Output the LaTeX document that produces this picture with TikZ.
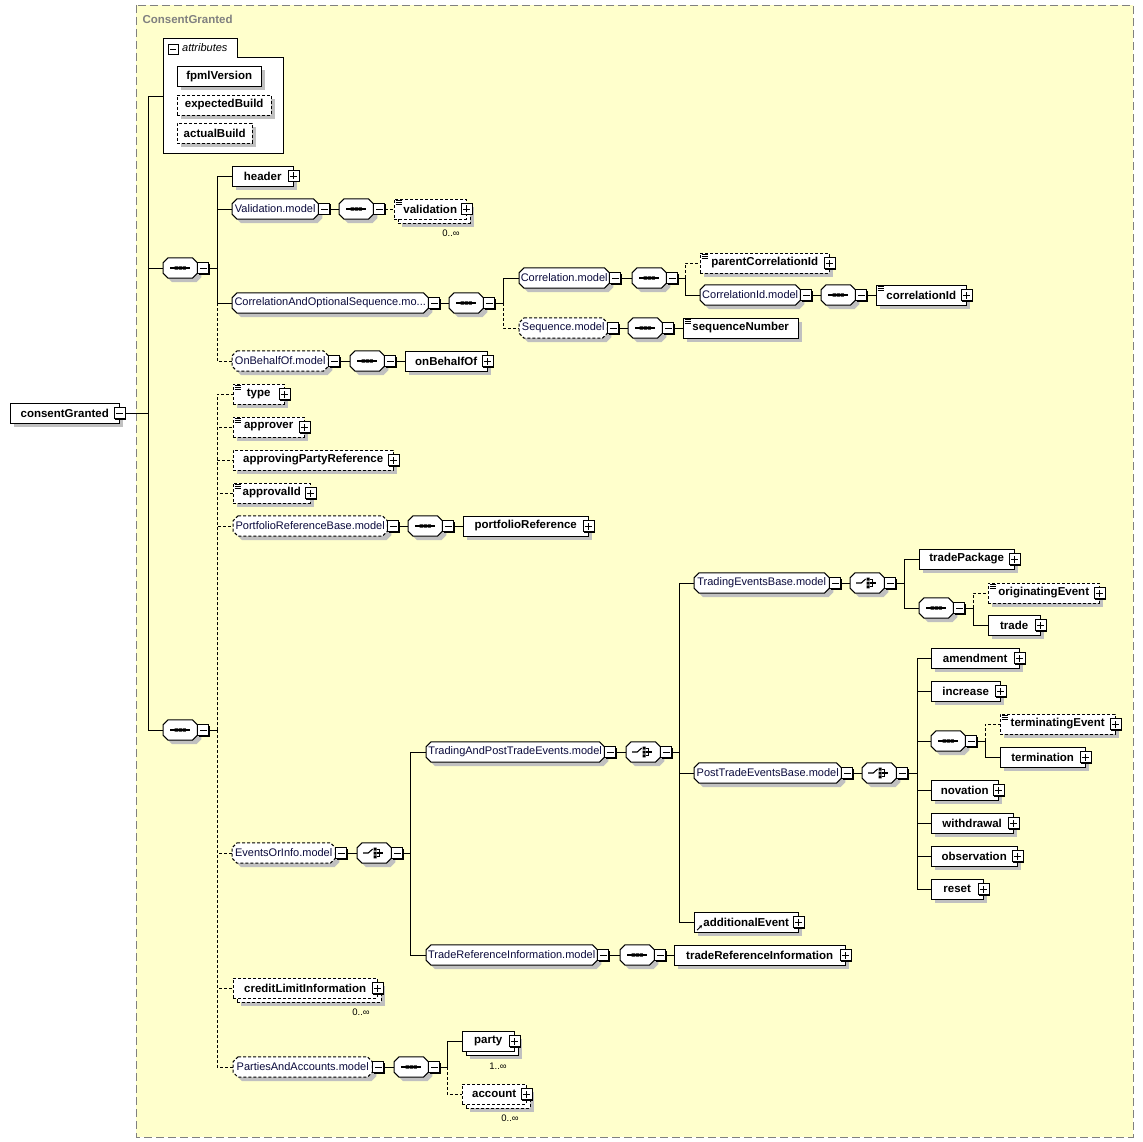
\documentclass[tikz,border=0pt]{standalone}
\usepackage{fontspec}
\setmainfont{Liberation Sans}
\usetikzlibrary{shadows,arrows.meta}
\definecolor{paper}{RGB}{255,255,204}
\definecolor{shade}{RGB}{192,192,192}
\definecolor{frame}{RGB}{128,128,128}
\definecolor{modeltext}{RGB}{10,10,60}
\newcommand\elemfont{\fontsize{11.5}{13}\selectfont\bfseries}
\newcommand\modelfont{\fontsize{11}{13}\selectfont}
\newcommand\occfont{\fontsize{9.5}{11}\selectfont}
\pgfdeclarelayer{paperlayer}
\pgfdeclarelayer{boxes}
\pgfsetlayers{paperlayer,boxes,main}
\tikzset{
  plainbox/.style={draw, fill=white, minimum height=20, inner sep=0, anchor=west, font=\elemfont},
  shaded/.style={drop shadow={shadow xshift=4pt, shadow yshift=-4pt, fill=shade, opacity=1}},
  opt/.style={dash pattern=on 3pt off 2pt},
  elem/.style={plainbox, shaded},
  optelem/.style={elem, opt},
  octa/.style={append after command={\pgfextra{\begin{pgfonlayer}{boxes}
    \draw[draw=black, line width=1pt, fill=white, shaded, #1]
      ([xshift=5pt]\tikzlastnode.north west) -- ([xshift=-5pt]\tikzlastnode.north east)
      -- ([yshift=-5pt]\tikzlastnode.north east) -- ([yshift=5pt]\tikzlastnode.south east)
      -- ([xshift=-5pt]\tikzlastnode.south east) -- ([xshift=5pt]\tikzlastnode.south west)
      -- ([yshift=5pt]\tikzlastnode.south west) -- ([yshift=-5pt]\tikzlastnode.north west) -- cycle;
    \end{pgfonlayer}}}},
  modelbase/.style={plainbox, draw=none, fill=none, font=\modelfont, text=modeltext},
  model/.style={modelbase, octa=solid},
  optmodel/.style={modelbase, octa=opt},
  compositor/.style={model, minimum width=34},
  btn/.style={draw, fill=white, minimum size=11, inner sep=0, line width=.8pt,
    drop shadow={shadow xshift=1pt, shadow yshift=-1pt, fill=black, opacity=1}},
  minusbtn/.style={btn, path picture={\draw[line width=.8pt]
    ([xshift=2pt]path picture bounding box.west) -- ([xshift=-2pt]path picture bounding box.east);}},
  plusbtn/.style={btn, path picture={\draw[line width=.8pt]
    ([xshift=2pt]path picture bounding box.west) -- ([xshift=-2pt]path picture bounding box.east)
    ([yshift=2pt]path picture bounding box.south) -- ([yshift=-2pt]path picture bounding box.north);}},
  occ/.style={font=\occfont, inner sep=0},
  seqicon/.pic={\draw[draw=black, line width=1.1pt] (-10,0) -- (10,0);
    \fill[black] (-5.6,-1.6) rectangle (-2.4,1.6) (-1.6,-1.6) rectangle (1.6,1.6) (2.4,-1.6) rectangle (5.6,1.6);},
  choiceicon/.pic={\draw[draw=black, line width=1.1pt] (-11,0) -- (-6,0) -- (-1.5,-4);
    \fill[black] (-0.6,-5.4) rectangle (2.4,-2.4) (-0.6,-1.5) rectangle (2.4,1.5) (-0.6,2.4) rectangle (2.4,5.4);
    \draw[draw=black, line width=1.1pt] (2.4,-3.9) -- (5.6,-3.9) -- (5.6,3.9) -- (2.4,3.9) (2.4,0) -- (9,0);},
  docmark/.pic={\draw[line width=.7pt] (1.5,1.5) -- (7.5,1.5) (1.5,3.5) -- (7.5,3.5) (1.5,5.5) -- (7.5,5.5);},
  refmark/.pic={\draw[line width=.9pt,-{Stealth[length=3pt,width=3.5pt]}] (3,-2) -- (8,-7);}
}
\begin{document}
\begin{tikzpicture}[x=1pt,y=-1pt,line width=1pt]
\useasboundingbox (0,0) rectangle (1143,1142);
% complex type frame
\begin{pgfonlayer}{paperlayer}
\fill[paper] (136,5) rectangle (1133,1137);
\draw[frame,dash pattern=on 8pt off 4pt] (136,5) rectangle (1133,1137);
\end{pgfonlayer}
\node[anchor=west,text=frame,font=\elemfont] (typename) at (139,19) {ConsentGranted};

% root element
\node[elem,minimum width=109] (root) at (10,413) {consentGranted};
\node[minusbtn] (rootm) at (root.east) {};
\coordinate (rt) at (148,413);

% attributes
\draw[fill=white] (163,38) -- (237,38) -- (237,57) -- (283,57) -- (283,153) -- (163,153) -- cycle;
\node[minusbtn,minimum size=10] (attrm) at (173,49) {};
\node[anchor=west,font=\modelfont\itshape,inner sep=0] (attrlabel) at (182,48) {attributes};
\node[elem,minimum width=84] (fpmlVersion) at (177,76.5) {fpmlVersion};
\node[optelem,minimum width=94] (expectedBuild) at (177,105) {expectedBuild};
\node[optelem,minimum width=75] (actualBuild) at (177,133) {actualBuild};
\coordinate (attrw) at (163,96);

% first sequence
\node[compositor] (seqA) at (163,268) {}; \pic at (seqA) {seqicon};
\node[minusbtn,anchor=west] (seqAm) at (seqA.east) {};
\coordinate (tA) at (217,268);
\node[elem,minimum width=61] (header) at (232,176) {header};
\node[plusbtn] (headerp) at (header.east) {};
\node[model,minimum width=86] (validationModel) at (232,209) {Validation.model};
\node[minusbtn,anchor=west] (validationModelm) at (validationModel.east) {};
\node[compositor] (seqB) at (339,209) {}; \pic at (seqB) {seqicon};
\node[minusbtn,anchor=west] (seqBm) at (seqB.east) {};
\node[optelem,minimum width=72] (validationBack) at (398,213) {};
\node[plainbox,opt,minimum width=72] (validation) at (394,209) {validation};
\pic at (validation.north west) {docmark};
\node[plusbtn] (validationp) at (validation.east) {};
\node[occ] (validationocc) at (451,233) {0..∞};
\node[model,minimum width=196] (corrOptModel) at (232,303) {CorrelationAndOptionalSequence.mo...};
\node[minusbtn,anchor=west] (corrOptModelm) at (corrOptModel.east) {};
\node[compositor] (seqD) at (449,303) {}; \pic at (seqD) {seqicon};
\node[minusbtn,anchor=west] (seqDm) at (seqD.east) {};
\coordinate (tD) at (503,303);
\node[model,minimum width=90] (correlationModel) at (519,278) {Correlation.model};
\node[minusbtn,anchor=west] (correlationModelm) at (correlationModel.east) {};
\node[compositor] (seqE) at (632,278) {}; \pic at (seqE) {seqicon};
\node[minusbtn,anchor=west] (seqEm) at (seqE.east) {};
\coordinate (tE) at (685,278);
\node[optelem,minimum width=129] (parentCorrelationId) at (700,263) {parentCorrelationId};
\pic at (parentCorrelationId.north west) {docmark};
\node[plusbtn] (parentCorrelationIdp) at (parentCorrelationId.east) {};
\node[model,minimum width=100] (correlationIdModel) at (700,295) {CorrelationId.model};
\node[minusbtn,anchor=west] (correlationIdModelm) at (correlationIdModel.east) {};
\node[compositor] (seqF) at (821,295) {}; \pic at (seqF) {seqicon};
\node[minusbtn,anchor=west] (seqFm) at (seqF.east) {};
\node[elem,minimum width=90] (correlationId) at (876,295) {correlationId};
\pic at (correlationId.north west) {docmark};
\node[plusbtn] (correlationIdp) at (correlationId.east) {};
\node[optmodel,minimum width=88] (sequenceModel) at (519,328) {Sequence.model};
\node[minusbtn,anchor=west] (sequenceModelm) at (sequenceModel.east) {};
\node[compositor] (seqG) at (628,328) {}; \pic at (seqG) {seqicon};
\node[minusbtn,anchor=west] (seqGm) at (seqG.east) {};
\node[elem,minimum width=115] (sequenceNumber) at (683,328) {sequenceNumber};
\pic at (sequenceNumber.north west) {docmark};
\node[optmodel,minimum width=96] (onBehalfOfModel) at (232,361) {OnBehalfOf.model};
\node[minusbtn,anchor=west] (onBehalfOfModelm) at (onBehalfOfModel.east) {};
\node[compositor] (seqH) at (350,361) {}; \pic at (seqH) {seqicon};
\node[minusbtn,anchor=west] (seqHm) at (seqH.east) {};
\node[elem,minimum width=82] (onBehalfOf) at (405,361) {onBehalfOf};
\node[plusbtn] (onBehalfOfp) at (onBehalfOf.east) {};

% second sequence
\node[compositor] (seqC) at (163,730) {}; \pic at (seqC) {seqicon};
\node[minusbtn,anchor=west] (seqCm) at (seqC.east) {};
\coordinate (tC) at (217,730);
\node[optelem,minimum width=51] (type) at (233,394) {type};
\pic at (type.north west) {docmark};
\node[plusbtn] (typep) at (type.east) {};
\node[optelem,minimum width=71] (approver) at (233,427) {approver};
\pic at (approver.north west) {docmark};
\node[plusbtn] (approverp) at (approver.east) {};
\node[optelem,minimum width=160] (approvingPartyReference) at (233,460) {approvingPartyReference};
\node[plusbtn] (approvingPartyReferencep) at (approvingPartyReference.east) {};
\node[optelem,minimum width=77] (approvalId) at (233,493) {approvalId};
\pic at (approvalId.north west) {docmark};
\node[plusbtn] (approvalIdp) at (approvalId.east) {};
\node[optmodel,minimum width=154] (portfolioModel) at (233,526) {PortfolioReferenceBase.model};
\node[minusbtn,anchor=west] (portfolioModelm) at (portfolioModel.east) {};
\node[compositor] (seqI) at (408,526) {}; \pic at (seqI) {seqicon};
\node[minusbtn,anchor=west] (seqIm) at (seqI.east) {};
\node[elem,minimum width=125] (portfolioReference) at (463,526) {portfolioReference};
\node[plusbtn] (portfolioReferencep) at (portfolioReference.east) {};

% events or info
\node[optmodel,minimum width=103] (eventsModel) at (232,853) {EventsOrInfo.model};
\node[minusbtn,anchor=west] (eventsModelm) at (eventsModel.east) {};
\node[compositor] (choiceA) at (357,853) {}; \pic at (choiceA) {choiceicon};
\node[minusbtn,anchor=west] (choiceAm) at (choiceA.east) {};
\coordinate (tEv) at (410,853);
\node[model,minimum width=178] (tradingPostModel) at (426,752) {TradingAndPostTradeEvents.model};
\node[minusbtn,anchor=west] (tradingPostModelm) at (tradingPostModel.east) {};
\node[compositor] (choiceB) at (626,752) {}; \pic at (choiceB) {choiceicon};
\node[minusbtn,anchor=west] (choiceBm) at (choiceB.east) {};
\coordinate (tTP) at (679,752);
\node[model,minimum width=135] (tradingBaseModel) at (694,583) {TradingEventsBase.model};
\node[minusbtn,anchor=west] (tradingBaseModelm) at (tradingBaseModel.east) {};
\node[compositor] (choiceC) at (850,583) {}; \pic at (choiceC) {choiceicon};
\node[minusbtn,anchor=west] (choiceCm) at (choiceC.east) {};
\coordinate (tTB) at (904,583);
\node[elem,minimum width=95] (tradePackage) at (919,559) {tradePackage};
\node[plusbtn] (tradePackagep) at (tradePackage.east) {};
\node[compositor] (seqJ) at (919,608) {}; \pic at (seqJ) {seqicon};
\node[minusbtn,anchor=west] (seqJm) at (seqJ.east) {};
\coordinate (tJ) at (973,608);
\node[optelem,minimum width=111] (originatingEvent) at (988,593) {originatingEvent};
\pic at (originatingEvent.north west) {docmark};
\node[plusbtn] (originatingEventp) at (originatingEvent.east) {};
\node[elem,minimum width=52] (trade) at (988,625) {trade};
\node[plusbtn] (tradep) at (trade.east) {};
\node[model,minimum width=147] (postTradeModel) at (694,773) {PostTradeEventsBase.model};
\node[minusbtn,anchor=west] (postTradeModelm) at (postTradeModel.east) {};
\node[compositor] (choiceD) at (862,773) {}; \pic at (choiceD) {choiceicon};
\node[minusbtn,anchor=west] (choiceDm) at (choiceD.east) {};
\coordinate (tPT) at (917,773);
\node[elem,minimum width=88] (amendment) at (931,658) {amendment};
\node[plusbtn] (amendmentp) at (amendment.east) {};
\node[elem,minimum width=69] (increase) at (931,691) {increase};
\node[plusbtn] (increasep) at (increase.east) {};
\node[compositor] (seqK) at (931,741) {}; \pic at (seqK) {seqicon};
\node[minusbtn,anchor=west] (seqKm) at (seqK.east) {};
\coordinate (tK) at (985,741);
\node[optelem,minimum width=115] (terminatingEvent) at (1000,724) {terminatingEvent};
\pic at (terminatingEvent.north west) {docmark};
\node[plusbtn] (terminatingEventp) at (terminatingEvent.east) {};
\node[elem,minimum width=85] (termination) at (1000,757) {termination};
\node[plusbtn] (terminationp) at (termination.east) {};
\node[elem,minimum width=67] (novation) at (931,790) {novation};
\node[plusbtn] (novationp) at (novation.east) {};
\node[elem,minimum width=82] (withdrawal) at (931,823) {withdrawal};
\node[plusbtn] (withdrawalp) at (withdrawal.east) {};
\node[elem,minimum width=86] (observation) at (931,856) {observation};
\node[plusbtn] (observationp) at (observation.east) {};
\node[elem,minimum width=52] (reset) at (931,889) {reset};
\node[plusbtn] (resetp) at (reset.east) {};
\node[elem,minimum width=104] (additionalEvent) at (694,922) {additionalEvent};
\pic at (additionalEvent.south west) {refmark};
\node[plusbtn] (additionalEventp) at (additionalEvent.east) {};
\node[model,minimum width=171] (tradeRefModel) at (426,955) {TradeReferenceInformation.model};
\node[minusbtn,anchor=west] (tradeRefModelm) at (tradeRefModel.east) {};
\node[compositor] (seqL) at (620,955) {}; \pic at (seqL) {seqicon};
\node[minusbtn,anchor=west] (seqLm) at (seqL.east) {};
\node[elem,minimum width=171] (tradeReferenceInformation) at (674,955) {tradeReferenceInformation};
\node[plusbtn] (tradeReferenceInformationp) at (tradeReferenceInformation.east) {};

% credit limit, parties and accounts
\node[optelem,minimum width=144] (creditBack) at (237,992) {};
\node[plainbox,opt,minimum width=144] (creditLimitInformation) at (233,988) {creditLimitInformation};
\node[plusbtn] (creditLimitInformationp) at (creditLimitInformation.east) {};
\node[occ] (creditocc) at (361,1012) {0..∞};
\node[optmodel,minimum width=139] (partiesModel) at (233,1067) {PartiesAndAccounts.model};
\node[minusbtn,anchor=west] (partiesModelm) at (partiesModel.east) {};
\node[compositor] (seqM) at (394,1067) {}; \pic at (seqM) {seqicon};
\node[minusbtn,anchor=west] (seqMm) at (seqM.east) {};
\coordinate (tM) at (447,1067);
\node[elem,minimum width=52] (partyBack) at (466,1045) {};
\node[plainbox,minimum width=52] (party) at (462,1041) {party};
\node[plusbtn] (partyp) at (party.east) {};
\node[occ] (partyocc) at (498,1066) {1..∞};
\node[optelem,minimum width=64] (accountBack) at (466,1098) {};
\node[plainbox,opt,minimum width=64] (account) at (462,1094) {account};
\node[plusbtn] (accountp) at (account.east) {};
\node[occ] (accountocc) at (510,1118) {0..∞};

% connectors
\draw (rootm) -- (rt);
\draw (rt) |- (attrw); \draw (rt) |- (seqA); \draw (rt) |- (seqC);
\draw (seqAm) -- (tA);
\draw (tA) |- (header); \draw (tA) |- (validationModel); \draw (tA) |- (corrOptModel);
\draw[opt] (tA) |- (onBehalfOfModel);
\draw (validationModelm) -- (seqB); \draw[opt] (seqBm) -- (validation);
\draw (corrOptModelm) -- (seqD); \draw (seqDm) -- (tD);
\draw (tD) |- (correlationModel); \draw[opt] (tD) |- (sequenceModel);
\draw (correlationModelm) -- (seqE); \draw (seqEm) -- (tE);
\draw[opt] (tE) |- (parentCorrelationId); \draw (tE) |- (correlationIdModel);
\draw (correlationIdModelm) -- (seqF); \draw (seqFm) -- (correlationId);
\draw (sequenceModelm) -- (seqG); \draw (seqGm) -- (sequenceNumber);
\draw (onBehalfOfModelm) -- (seqH); \draw (seqHm) -- (onBehalfOf);
\draw (seqCm) -- (tC);
\draw[opt] (tC) |- (type); \draw[opt] (tC) |- (approver);
\draw[opt] (tC) |- (approvingPartyReference); \draw[opt] (tC) |- (approvalId);
\draw[opt] (tC) |- (portfolioModel); \draw[opt] (tC) |- (eventsModel);
\draw[opt] (tC) |- (creditLimitInformation); \draw[opt] (tC) |- (partiesModel);
\draw (portfolioModelm) -- (seqI); \draw (seqIm) -- (portfolioReference);
\draw (eventsModelm) -- (choiceA); \draw (choiceAm) -- (tEv);
\draw (tEv) |- (tradingPostModel); \draw (tEv) |- (tradeRefModel);
\draw (tradingPostModelm) -- (choiceB); \draw (choiceBm) -- (tTP);
\draw (tTP) |- (tradingBaseModel); \draw (tTP) |- (postTradeModel); \draw (tTP) |- (additionalEvent);
\draw (tradingBaseModelm) -- (choiceC); \draw (choiceCm) -- (tTB);
\draw (tTB) |- (tradePackage); \draw (tTB) |- (seqJ);
\draw (seqJm) -- (tJ);
\draw[opt] (tJ) |- (originatingEvent); \draw (tJ) |- (trade);
\draw (postTradeModelm) -- (choiceD); \draw (choiceDm) -- (tPT);
\draw (tPT) |- (amendment); \draw (tPT) |- (increase); \draw (tPT) |- (seqK);
\draw (tPT) |- (novation); \draw (tPT) |- (withdrawal); \draw (tPT) |- (observation); \draw (tPT) |- (reset);
\draw (seqKm) -- (tK);
\draw[opt] (tK) |- (terminatingEvent); \draw (tK) |- (termination);
\draw (tradeRefModelm) -- (seqL); \draw (seqLm) -- (tradeReferenceInformation);
\draw (partiesModelm) -- (seqM); \draw (seqMm) -- (tM);
\draw (tM) |- (party); \draw[opt] (tM) |- (account);
\end{tikzpicture}
\end{document}
